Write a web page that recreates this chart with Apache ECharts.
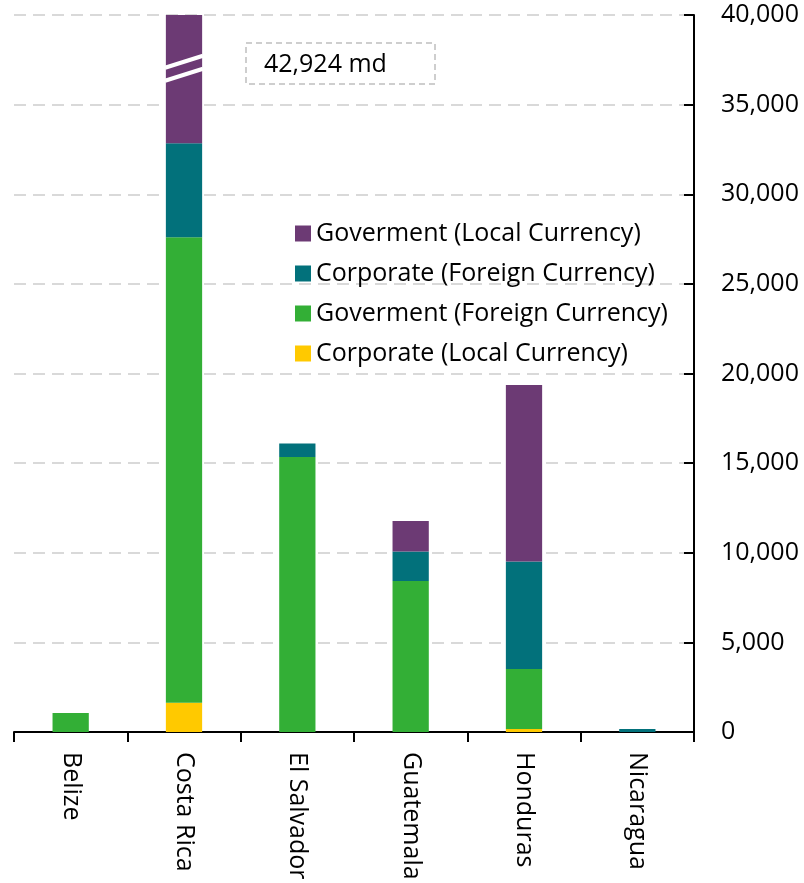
<!DOCTYPE html>
<html>
<head>
<meta charset="utf-8">
<script src="https://cdn.jsdelivr.net/npm/echarts@6/dist/echarts.min.js"></script>
<style>
  html, body { margin: 0; padding: 0; background: #fff; }
  #chart { width: 804px; height: 883px; }
</style>
</head>
<body>
<div id="chart"></div>
<script>
// countries on the x axis
const countries = ['Belize', 'Costa Rica', 'El Salvador', 'Guatemala', 'Honduras', 'Nicaragua']

// stacked segments, bottom to top (millions)
const corpLocal = [0, 1634, 0, 0, 167, 0]
const govForeign = [1060, 25970, 15335, 8420, 3346, 0]
const corpForeign = [0, 5242, 759, 1652, 6001, 170]
const govLocal = [0, 10078, 0, 1694, 9839, 0]

// y axis
const yMin = 0
const yMax = 40000
const yStep = 5000

// Costa Rica's real total, bar is cut at the top of the axis
const breakNote = '42,924 md'

const FONT = 'Open Sans'
const FONT_SIZE = 25
const colors = {
  govLocal: '#6c3a74',
  corpForeign: '#02717b',
  govForeign: '#33af36',
  corpLocal: '#ffc900'
}

var myChart = echarts.init(document.getElementById('chart'))

function barSeries(name, data, color) {
  return {
    name: name,
    type: 'bar',
    stack: 'total',
    barWidth: '32%',
    clip: true,
    data: data,
    itemStyle: { color: color }
  }
}

const option = {
  animation: false,
  backgroundColor: '#fff',
  textStyle: { fontFamily: FONT },
  grid: { left: 14, right: 110, top: 15, bottom: 151 },
  legend: {
    left: 290,
    top: 216,
    orient: 'vertical',
    itemWidth: 16,
    itemHeight: 16,
    itemGap: 15,
    icon: 'rect',
    textStyle: { fontFamily: FONT, fontSize: FONT_SIZE, color: '#000' },
    data: ['Goverment (Local Currency)', 'Corporate (Foreign Currency)', 'Goverment (Foreign Currency)', 'Corporate (Local Currency)']
  },
  xAxis: {
    type: 'category',
    data: countries,
    axisLine: { lineStyle: { color: '#000', width: 2 } },
    axisTick: { show: true, length: 10, lineStyle: { color: '#000', width: 2 } },
    axisLabel: {
      rotate: -90,
      margin: 20,
      fontFamily: FONT,
      fontSize: FONT_SIZE,
      color: '#000'
    }
  },
  yAxis: {
    type: 'value',
    position: 'right',
    min: yMin,
    max: yMax,
    interval: yStep,
    axisLine: { show: true, lineStyle: { color: '#000', width: 2 } },
    axisTick: { show: true, inside: true, length: 10, lineStyle: { color: '#000', width: 2 } },
    axisLabel: {
      margin: 27,
      fontFamily: FONT,
      fontSize: FONT_SIZE,
      color: '#000',
      formatter: function(v) { return v.toLocaleString('en-US') }
    },
    splitLine: {
      show: true,
      lineStyle: { color: '#d9d9d9', width: 2, type: [12, 7] }
    }
  },
  series: [
    barSeries('Corporate (Local Currency)', corpLocal, colors.corpLocal),
    barSeries('Goverment (Foreign Currency)', govForeign, colors.govForeign),
    barSeries('Corporate (Foreign Currency)', corpForeign, colors.corpForeign),
    barSeries('Goverment (Local Currency)', govLocal, colors.govLocal)
  ]
}
myChart.setOption(option)

// break marks on the cut bar and the note with the real total
const cut = myChart.convertToPixel({ gridIndex: 0 }, [countries[1], 37000])
const halfBar = 19
myChart.setOption({
  graphic: [
    {
      type: 'line',
      shape: { x1: cut[0] - halfBar, y1: cut[1] - 1, x2: cut[0] + halfBar, y2: cut[1] - 13 },
      style: { stroke: '#fff', lineWidth: 4 },
      z: 100
    },
    {
      type: 'line',
      shape: { x1: cut[0] - halfBar, y1: cut[1] + 12, x2: cut[0] + halfBar, y2: cut[1] },
      style: { stroke: '#fff', lineWidth: 4 },
      z: 100
    },
    {
      type: 'rect',
      shape: { x: 246, y: 43, width: 189, height: 41 },
      style: { fill: '#fff', stroke: '#bfbfbf', lineWidth: 1.5, lineDash: [6, 4] },
      z: 100
    },
    {
      type: 'text',
      x: 264,
      y: 65,
      style: { text: breakNote, font: FONT_SIZE + 'px ' + FONT, fill: '#000', verticalAlign: 'middle' },
      z: 101
    }
  ]
})

window.addEventListener('resize', function() {
  myChart.resize()
})
</script>
</body>
</html>
